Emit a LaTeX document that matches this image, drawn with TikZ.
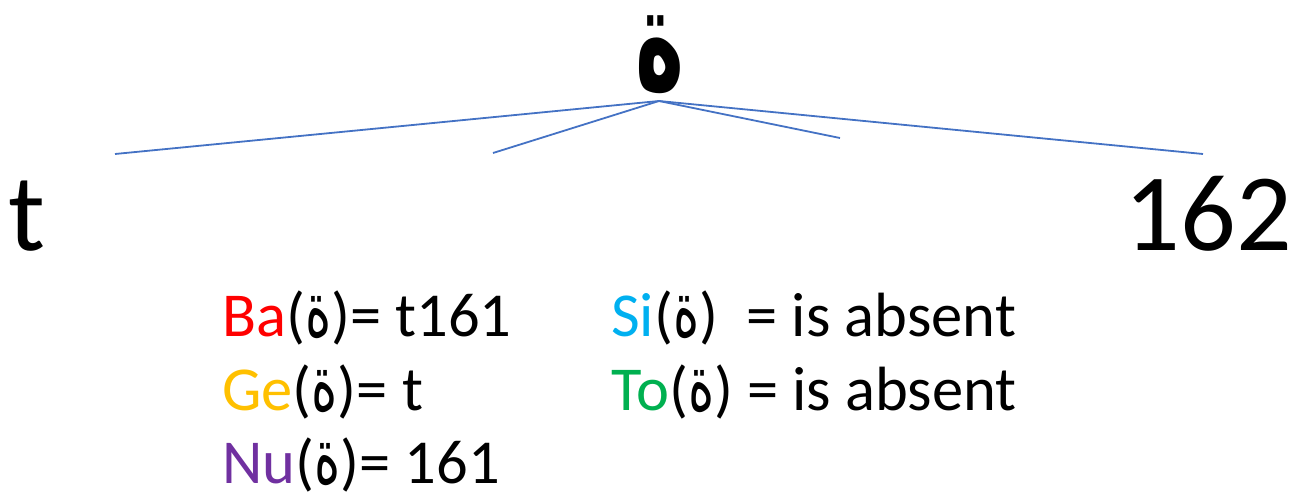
\documentclass[tikz,border=0pt]{standalone}
\usepackage{fontspec}
\setmainfont{Carlito}
\newfontfamily\arabicfont[Script=Arabic]{DejaVu Sans}
\TeXXeTstate=1
\definecolor{linkblue}{HTML}{4472C4}
\definecolor{baRed}{HTML}{FF0000}
\definecolor{geGold}{HTML}{FFC000}
\definecolor{nuPurple}{HTML}{7030A0}
\definecolor{siBlue}{HTML}{00B0F0}
\definecolor{toGreen}{HTML}{00B050}
\newcommand\tehm{\scalebox{0.8}[1.25]{\arabicfont\beginR ة\endR}}
\begin{document}
\begin{tikzpicture}[x=1pt,y=-1pt,
  link/.style={draw=linkblue, line width=1.8pt},
  bigtxt/.style={inner sep=0pt, anchor=base west, font=\fontsize{110}{120}\selectfont},
  lbl/.style={inner sep=0pt, anchor=base west, font=\fontsize{62.5}{70}\selectfont}]
\useasboundingbox (0,0) rectangle (1294,498);
\node[inner sep=0pt, anchor=base, font=\arabicfont\bfseries\fontsize{100}{110}\selectfont] (root) at (660,89) {\scalebox{0.83}[1.44]{\beginR ة\endR}};
\coordinate (apex) at (659,101);
\coordinate (e1) at (115,154);
\coordinate (e2) at (493,153);
\coordinate (e3) at (840,138);
\coordinate (e4) at (1203,154);
\draw[link] (apex) -- (e1);
\draw[link] (apex) -- (e2);
\draw[link] (apex) -- (e3);
\draw[link] (apex) -- (e4);
\node[bigtxt] (tleft) at (8,250) {t};
\node[bigtxt, anchor=base east] (n162) at (1292,250) {162};
\node[lbl] (ba) at (222,336) {\textcolor{baRed}{Ba}(\tehm)= t161};
\node[lbl] (ge) at (222,410) {\textcolor{geGold}{Ge}(\tehm)= t};
\node[lbl] (nu) at (222,483) {\textcolor{nuPurple}{Nu}(\tehm)= 161};
\node[lbl] (si) at (611,336) {\textcolor{siBlue}{Si}(\tehm)\ \ = is absent};
\node[lbl] (to) at (611,410) {\textcolor{toGreen}{To}(\tehm) = is absent};
\end{tikzpicture}
\end{document}
